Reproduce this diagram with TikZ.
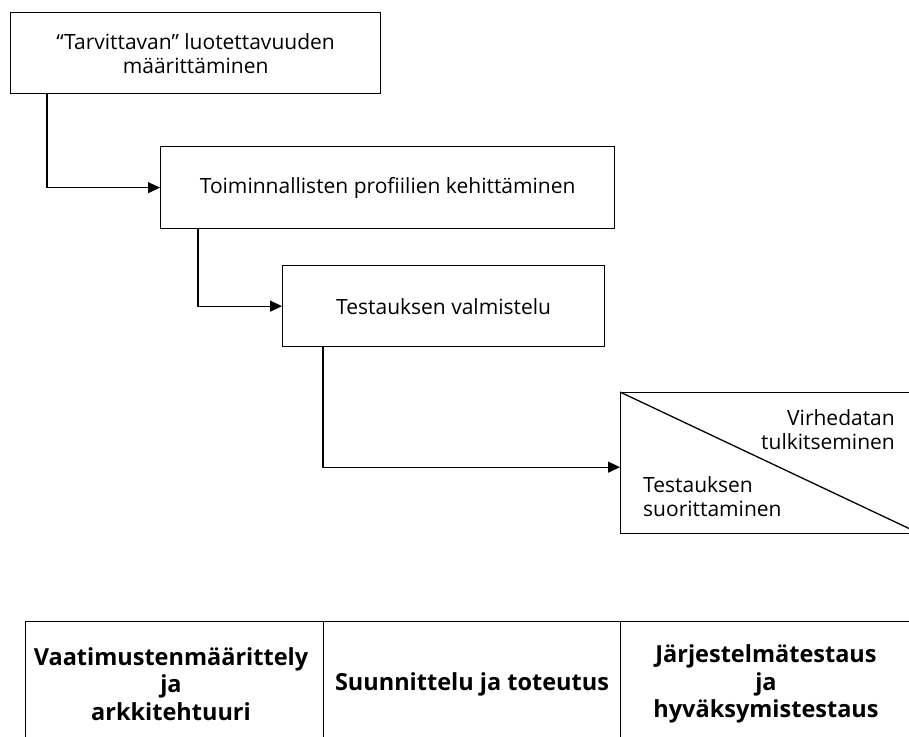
\documentclass[tikz,border=0pt]{standalone}
\usepackage{fontspec}
\setmainfont{Open Sans}
\usetikzlibrary{arrows.meta}

\tikzset{
  stepbox/.style={draw, line width=1.3pt, fill=white, inner sep=0pt,
    anchor=north west, align=center,
    font=\fontsize{21}{24}\selectfont},
  flow/.style={line width=1.3pt, -{Triangle[length=12pt,width=11pt]}},
  cellbox/.style={draw, line width=1.3pt, inner sep=0pt, anchor=north west},
  celltext/.style={align=center, font=\bfseries\fontsize{23.5}{27.5}\selectfont},
  halftext/.style={font=\fontsize{21}{24}\selectfont, inner sep=0pt}
}

\begin{document}
\begin{tikzpicture}[x=1pt, y=-1pt]
  \useasboundingbox (0,0) rectangle (909,736);

  % process steps
  \node[stepbox, minimum width=370, minimum height=81] (b1) at (10,12)
    {“Tarvittavan” luotettavuuden\\määrittäminen};
  \node[stepbox, minimum width=454, minimum height=82] (b2) at (160,146)
    {Toiminnallisten profiilien kehittäminen};
  \node[stepbox, minimum width=322, minimum height=81] (b3) at (282,265)
    {Testauksen valmistelu};
  \node[stepbox, minimum width=300, minimum height=141] (b4) at (620,392) {};
  \draw[line width=1.3pt] (b4.north west) -- (b4.south east);
  \node[halftext, align=right, anchor=east] (b4a) at (895,430)
    {Virhedatan\\tulkitseminen};
  \node[halftext, align=left, anchor=west] (b4b) at (643,497)
    {Testauksen\\suorittaminen};

  % connectors
  \draw[flow] ([xshift=37pt]b1.south west) |- (b2.west);
  \draw[flow] ([xshift=38pt]b2.south west) |- (b3.west);
  \draw[flow] ([xshift=41pt]b3.south west) |- ([yshift=-4pt]b4.west);

  % phase table
  \node[cellbox, minimum width=298, minimum height=130] (c1) at (25,621) {};
  \node[cellbox, minimum width=297, minimum height=130] (c2) at (323,621) {};
  \node[cellbox, minimum width=300, minimum height=130] (c3) at (620,621) {};
  \node[celltext] (t1) at (171,684) {Vaatimustenmäärittely\\ja\\arkkitehtuuri};
  \node[celltext] (t2) at (472,684) {Suunnittelu ja toteutus};
  \node[celltext] (t3) at (766,684) {Järjestelmätestaus\\ja\\hyväksymistestaus};
\end{tikzpicture}
\end{document}
